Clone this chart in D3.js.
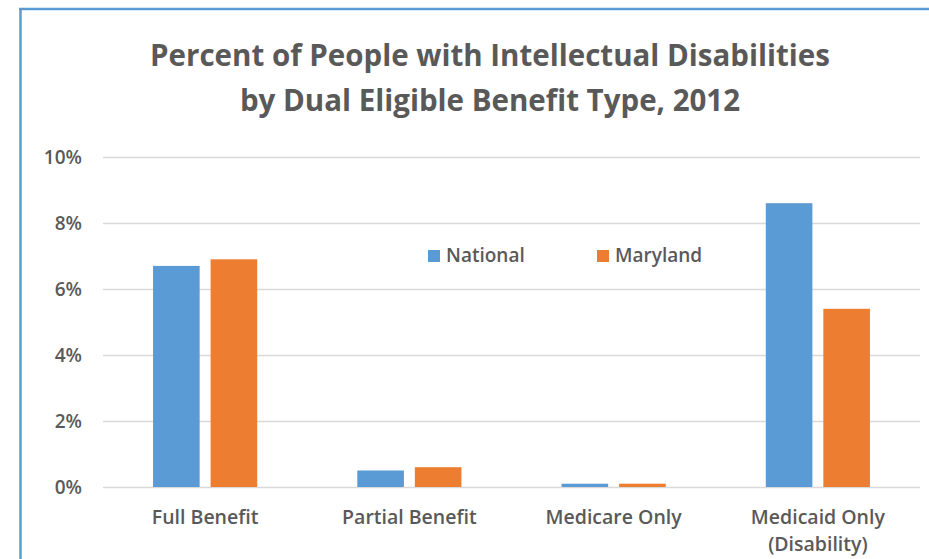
<!DOCTYPE html>
<html>
<head>
<meta charset="utf-8">
<script src="https://cdn.jsdelivr.net/npm/d3@7"></script>
<style>
  body { margin: 0; background: #fff; }
  svg text { font-family: "Open Sans", sans-serif; fill: #595959; }
</style>
</head>
<body>
<div id="chart"></div>
<script>
// chart data
const categories = ["Full Benefit", "Partial Benefit", "Medicare Only", "Medicaid Only\n(Disability)"];
const seriesNames = ["National", "Maryland"];
const national = [6.7, 0.5, 0.1, 8.6];
const maryland = [6.9, 0.6, 0.1, 5.4];
const yTicks = [0, 2, 4, 6, 8, 10];
const colors = ["#5b9bd5", "#ed7d31"];

const W = 929, H = 559;
const margin = { top: 157, right: 9, bottom: 72, left: 103 },
    width = W - margin.left - margin.right,
    height = H - margin.top - margin.bottom;

const svg = d3.select("#chart")
    .append("svg")
    .attr("width", W)
    .attr("height", H);

// blue frame around the chart area
svg.append("line")
    .attr("x1", 20.5).attr("x2", 20.5)
    .attr("y1", 8).attr("y2", H)
    .attr("stroke", "#5b9bd5").attr("stroke-width", 2.5);
svg.append("line")
    .attr("x1", 19).attr("x2", W)
    .attr("y1", 9).attr("y2", 9)
    .attr("stroke", "#5b9bd5").attr("stroke-width", 2.5);

// title
const title = svg.append("text")
    .attr("text-anchor", "middle")
    .style("font-size", "29.5px")
    .style("font-weight", "bold");
title.append("tspan").attr("x", 490).attr("y", 66).text("Percent of People with Intellectual Disabilities");
title.append("tspan").attr("x", 490).attr("y", 111).text("by Dual Eligible Benefit Type, 2012");

const g = svg.append("g")
    .attr("transform", "translate(" + margin.left + "," + margin.top + ")");

// scales
const x0 = d3.scaleBand().domain(categories).range([0, width])
    .paddingInner(0.49).paddingOuter(0.245);
const x1 = d3.scaleBand().domain(seriesNames).range([0, x0.bandwidth()])
    .paddingInner(0.19);
const y = d3.scaleLinear().domain([0, 10]).range([height, 0]);

// gridlines
g.append("g")
    .selectAll("line")
    .data(yTicks)
    .join("line")
    .attr("x1", 0).attr("x2", width)
    .attr("y1", d => Math.round(y(d)) + 0.5)
    .attr("y2", d => Math.round(y(d)) + 0.5)
    .attr("stroke", "#d9d9d9")
    .attr("stroke-width", 1.5);

// Y axis labels
const yAxis = g.append("g")
    .call(d3.axisLeft(y).tickValues(yTicks).tickFormat(d => d + "%").tickSize(0).tickPadding(21));
yAxis.select(".domain").remove();
yAxis.selectAll("text")
    .attr("text-anchor", "end")
    .style("font-size", "19px")
    .style("font-weight", "600")
    .style("font-family", "'Open Sans', sans-serif")
    .attr("fill", "#595959");

// bars
const rows = categories.map((c, i) => ({ cat: c, vals: [national[i], maryland[i]] }));
g.append("g")
    .selectAll("g")
    .data(rows)
    .join("g")
    .attr("transform", d => "translate(" + x0(d.cat) + ",0)")
    .selectAll("rect")
    .data(d => d.vals.map((v, j) => ({ name: seriesNames[j], v: v, j: j })))
    .join("rect")
    .attr("x", d => x1(d.name))
    .attr("width", x1.bandwidth())
    .attr("y", d => y(d.v))
    .attr("height", d => height - y(d.v))
    .attr("fill", d => colors[d.j]);

// X axis labels
const xAxis = g.append("g")
    .attr("transform", "translate(0," + height + ")")
    .call(d3.axisBottom(x0).tickSize(0).tickFormat(""));
xAxis.select(".domain").remove();
xAxis.selectAll(".tick").each(function (d) {
    const t = d3.select(this).append("text")
        .attr("text-anchor", "middle")
        .style("font-size", "19.5px")
        .style("font-weight", "600")
        .attr("fill", "#595959");
    d.split("\n").forEach((line, i) => {
        t.append("tspan").attr("x", 0).attr("y", 37 + i * 27).text(line);
    });
});

// legend
const legend = svg.append("g").attr("transform", "translate(428,250)");
const items = legend.selectAll("g")
    .data(seriesNames)
    .join("g")
    .attr("transform", (d, i) => "translate(" + (i * 169) + ",0)");
items.append("rect")
    .attr("width", 12).attr("height", 12)
    .attr("fill", (d, i) => colors[i]);
items.append("text")
    .attr("x", 18).attr("y", 12)
    .style("font-size", "19px")
    .style("font-weight", "600")
    .text(d => d);
</script>
</body>
</html>
